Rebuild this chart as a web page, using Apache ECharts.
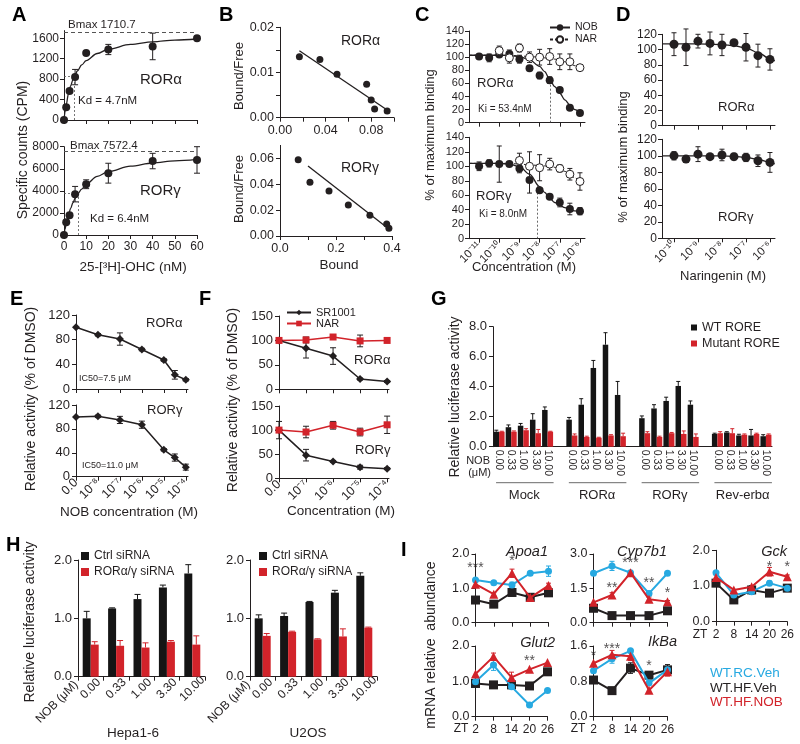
<!DOCTYPE html>
<html>
<head>
<meta charset="utf-8">
<script src="https://cdn.jsdelivr.net/npm/echarts@6/dist/echarts.min.js"></script>
<style>
html,body{margin:0;padding:0;background:#fff;}
#chart{width:800px;height:744px;}
</style>
</head>
<body>
<div id="chart"></div>
<script>
// ================= DATA =================
// A: saturation binding (25-[3H]-OHC, nM)
const aConc = [0, 1, 2.5, 5, 10, 20, 40, 60];
const aAlpha = [0, 250, 570, 840, 1310, 1380, 1440, 1600];
const aAlphaErr = [0, 0, 0, 150, 0, 100, 260, 0];
const aGamma = [0, 1150, 1800, 3700, 4600, 5600, 6700, 6800];
const aGammaErr = [0, 0, 0, 700, 400, 900, 700, 1200];
const aFitConc = [0, 0.5, 1, 2, 3, 4, 5, 6, 8, 10, 15, 20, 30, 40, 50, 60];
const aAlphaFit = [0, 164, 300, 511, 667, 787, 882, 959, 1078, 1164, 1302, 1385, 1479, 1531, 1564, 1586];
const aGammaFit = [0, 549, 1023, 1803, 2417, 2912, 3321, 3664, 4162, 4617, 5308, 5736, 6241, 6522, 6712, 6843];
const aBmax = [1710.7, 7572.4];
const aKd = [4.7, 6.4];
const aYTicks1 = [0, 400, 800, 1200, 1600];

// B: Scatchard
const bAlphaBound = [0.017, 0.035, 0.050, 0.076, 0.080, 0.083, 0.094];
const bAlphaBF = [0.0135, 0.0129, 0.0096, 0.0074, 0.0039, 0.0019, 0.0015];
const bAlphaFitX = [0.017, 0.094];
const bAlphaFitY = [0.0148, 0.0017];
const bGammaBound = [0.065, 0.107, 0.175, 0.244, 0.321, 0.381, 0.389];
const bGammaBF = [0.059, 0.0415, 0.0347, 0.0239, 0.016, 0.0093, 0.0059];
const bGammaFitX = [0.10, 0.39];
const bGammaFitY = [0.054, 0.0052];

// C: competition binding (log10 M)
const cTickExp = [-11, -10, -9, -8, -7, -6];
const cLogConc = [-11, -10.5, -10, -9.5, -9, -8.5, -8, -7.5, -7, -6.5, -6];
const cNobA = [101, 99, 104, 105, 97, 83, 72, 65, 50, 23, 15];
const cNobAErr = [0, 6, 0, 6, 6, 0, 5, 5, 0, 0, 0];
const cNarLogA = [-10, -9.5, -9, -8.5, -8, -7.5, -7, -6.5, -6];
const cNarA = [110, 99, 114, 100, 100, 101, 93, 93, 84];
const cNarAErr = [7, 8, 6, 8, 12, 12, 12, 12, 0];
const cNobG = [100, 104, 103, 103, 97, 81, 67, 58, 50, 41, 38];
const cNobGErr = [6, 5, 25, 0, 6, 18, 0, 0, 6, 8, 5];
const cNarLogG = [-9, -8.5, -8, -7.5, -7, -6.5, -6];
const cNarG = [108, 100, 98, 103, 97, 89, 79];
const cNarGErr = [10, 20, 18, 8, 5, 8, 12];
const cFitLog = [-11.5, -11, -10.5, -10, -9.5, -9, -8.5, -8, -7.75, -7.5, -7.25, -7, -6.75, -6.5, -6.25, -6];
const cNobAFit = [103, 103, 103, 103, 102.5, 101, 96, 86, 78, 66, 55, 45, 35, 27, 20, 15];
const cNobGFit = [104, 104, 104, 104, 103, 99.5, 89, 72, 64, 56, 50, 46, 43, 40, 38.5, 37];
const cNarAFit = [103, 103, 103, 103, 103, 102, 101, 100, 99, 98, 97, 95, 93, 90, 87, 84];
const cNarGFit = [104, 104, 104, 104, 104, 103, 102, 101, 100.5, 100, 98.5, 96, 93, 89, 84, 79];
const cKiLog = [-7.45, -8.1];
const cKiY = [63, 74];

// D: naringenin binding
const dTickExp = [-10, -9, -8, -7, -6];
const dLogConc = [-10, -9.5, -9, -8.5, -8, -7.5, -7, -6.5, -6];
const dAlpha = [107, 103, 111, 108, 106, 109, 103, 92, 87];
const dAlphaErr = [15, 24, 9, 15, 14, 0, 18, 15, 14];
const dGamma = [100, 96, 102, 99, 101, 99, 98, 94, 92];
const dGammaErr = [5, 4, 9, 0, 7, 4, 5, 7, 12];
const dFitLog = [-10.5, -9, -8, -7.5, -7, -6.5, -6, -5.8];
const dAlphaFit = [107.5, 107.5, 106.5, 105, 102, 96, 88, 85];
const dGammaFit = [100, 100, 99.8, 99.3, 98, 95.5, 92, 90];

// E: NOB dose response
const eTickLabels = ['0.0', '10⁻⁸', '10⁻⁷', '10⁻⁶', '10⁻⁵', '10⁻⁴'];
const eTickPos = [0, 1, 2, 3, 4, 5];
const ePos = [0, 1, 2, 3, 4, 4.5, 5];
const eAlpha = [100, 88, 81, 64, 47, 23, 15];
const eAlphaErr = [0, 2, 10, 2, 2, 7, 2];
const eGamma = [100, 101, 95, 87, 45, 32, 16];
const eGammaErr = [0, 2, 6, 6, 2, 6, 5];

// F: SR1001 / NAR
const fTickLabels = ['0.0', '10⁻⁷', '10⁻⁶', '10⁻⁵', '10⁻⁴'];
const fPos = [0, 1, 2, 3, 4];
const fSrA = [100, 84, 68, 21, 16];
const fSrAErr = [0, 20, 17, 2, 2];
const fNarA = [100, 101, 107, 99, 100];
const fNarAErr = [0, 6, 4, 12, 0];
const fSrG = [100, 48, 35, 23, 20];
const fSrGErr = [18, 12, 2, 4, 2];
const fNarG = [100, 96, 110, 96, 111];
const fNarGErr = [0, 12, 8, 8, 18];

// G: luciferase
const gGroups = ['Mock', 'RORα', 'RORγ', 'Rev-erbα'];
const gDoses = ['0.00', '0.33', '1.00', '3.30', '10.00'];
const gWT = [[1.0, 1.3, 1.4, 1.8, 2.45], [1.8, 2.8, 5.25, 6.8, 3.45], [1.9, 2.55, 3.05, 4.05, 2.8], [0.85, 0.95, 0.75, 0.75, 0.7]];
const gWTErr = [[0.1, 0.15, 0.15, 0.4, 0.2], [0.15, 0.4, 0.5, 0.8, 0.9], [0.15, 0.25, 0.25, 0.3, 0.25], [0.05, 0.05, 0.08, 0.4, 0.1]];
const gMut = [[1.0, 1.0, 1.1, 0.9, 1.0], [0.75, 0.65, 0.6, 0.75, 0.7], [0.9, 0.65, 0.9, 0.85, 0.65], [0.9, 0.9, 0.8, 0.85, 0.8]];
const gMutErr = [[0.03, 0.05, 0.1, 0.25, 0.03], [0.1, 0.05, 0.03, 0.05, 0.2], [0.1, 0.05, 0.05, 0.2, 0.2], [0.1, 0.3, 0.05, 0.05, 0.05]];

// H: siRNA
const hDoses = ['0.00', '0.33', '1.00', '3.30', '10.00'];
const hHepaCtrl = [1.0, 1.17, 1.33, 1.53, 1.77];
const hHepaCtrlErr = [0.12, 0.01, 0.08, 0.04, 0.15];
const hHepaSi = [0.55, 0.53, 0.5, 0.6, 0.55];
const hHepaSiErr = [0.05, 0.09, 0.08, 0.02, 0.15];
const hU2Ctrl = [1.0, 1.04, 1.28, 1.44, 1.73];
const hU2CtrlErr = [0.06, 0.05, 0.01, 0.04, 0.05];
const hU2Si = [0.7, 0.77, 0.64, 0.69, 0.84];
const hU2SiErr = [0.04, 0.01, 0.01, 0.13, 0.01];

// I: mRNA
const iZT = ['2', '8', '14', '20', '26'];
const iApoa1Blue = [1.24, 1.16, 1.10, 1.44, 1.50], iApoa1BlueErr = [0, 0.05, 0.08, 0.05, 0.15];
const iApoa1Black = [0.66, 0.54, 0.88, 0.74, 0.87], iApoa1BlackErr = [0, 0, 0.1, 0, 0];
const iApoa1Red = [1.12, 0.83, 1.44, 0.73, 1.08], iApoa1RedErr = [0, 0.04, 0.12, 0, 0.07];
const iApoa1Stars = [[0, 1.68, '***'], [2, 1.87, '*']];
const iCypBlue = [2.16, 2.48, 2.18, 1.28, 2.16], iCypBlueErr = [0, 0.2, 0, 0.1, 0];
const iCypBlack = [0.63, 0.31, 0.31, 0.31, 0.52], iCypBlackErr = [0, 0, 0, 0, 0];
const iCypRed = [0.89, 1.21, 2.18, 1.02, 0.92], iCypRedErr = [0, 0.1, 0.1, 0.1, 0.05];
const iCypStars = [[1, 1.65, '**'], [2, 2.74, '***'], [3, 1.86, '**'], [4, 1.43, '*']];
const iGckBlue = [1.37, 0.75, 0.84, 1.08, 0.94], iGckBlueErr = [0, 0, 0, 0.06, 0];
const iGckBlack = [1.08, 0.61, 0.89, 0.80, 0.94], iGckBlackErr = [0, 0, 0.12, 0, 0];
const iGckRed = [1.24, 0.89, 0.98, 1.40, 1.26], iGckRedErr = [0, 0, 0, 0.12, 0.05];
const iGckStars = [[3, 1.62, '*'], [4, 1.62, '*']];
const iGlutBlue = [0.99, 1.46, 0.85, 0.33, 0.74], iGlutBlueErr = [0, 0.15, 0, 0, 0];
const iGlutBlack = [0.94, 0.90, 0.90, 0.87, 1.27], iGlutBlackErr = [0, 0, 0.1, 0, 0];
const iGlutRed = [1.21, 1.70, 1.11, 1.34, 1.53], iGlutRedErr = [0, 0.1, 0.15, 0, 0];
const iGlutStars = [[1, 2.08, '**'], [3, 1.66, '**']];
const iIkbBlue = [1.04, 1.31, 1.49, 0.76, 1.06], iIkbBlueErr = [0, 0.1, 0, 0, 0];
const iIkbBlack = [0.83, 0.59, 1.10, 0.94, 1.06], iIkbBlackErr = [0, 0, 0.12, 0, 0.12];
const iIkbRed = [1.21, 1.40, 1.37, 0.60, 1.02], iIkbRedErr = [0, 0.1, 0.1, 0, 0.1];
const iIkbStars = [[0, 1.44, '*'], [1, 1.6, '***'], [3, 1.22, '*']];

// ================= HELPERS =================
const FONT = '"Liberation Sans", Arial, Helvetica, sans-serif';
const INK = '#231f20', RED = '#d2232a', BLUE = '#27a9e1', BARK = '#151515';
const grids = [], xAxes = [], yAxes = [], series = [], graphic = [];
function merge(a, b) {
  const o = Object.assign({}, a);
  for (const k in b) {
    const v = b[k];
    if (v && typeof v === 'object' && !Array.isArray(v) && o[k] && typeof o[k] === 'object' && !Array.isArray(o[k])) o[k] = merge(o[k], v);
    else o[k] = v;
  }
  return o;
}
const AX = {
  axisLine: {show: true, onZero: false, lineStyle: {color: INK, width: 1}},
  axisTick: {show: true, inside: false, length: 4, lineStyle: {color: INK, width: 1}},
  axisLabel: {color: INK, fontSize: 12, fontFamily: FONT, margin: 6},
  splitLine: {show: false}, splitArea: {show: false}
};
function panel(box, xo, yo) {
  const gi = grids.length;
  grids.push({left: box[0], top: box[1], width: box[2], height: box[3]});
  xAxes.push(merge(merge(AX, {gridIndex: gi, type: 'value'}), xo));
  yAxes.push(merge(merge(AX, {gridIndex: gi, type: 'value'}), yo));
  return gi;
}
const pts = (xs, ys) => xs.map((x, i) => [x, ys[i]]);
function dots(gi, xs, ys, o) {
  series.push(merge({type: 'scatter', xAxisIndex: gi, yAxisIndex: gi, symbol: 'circle', symbolSize: 8,
    itemStyle: {color: INK, opacity: 1}, z: 6, silent: true, data: pts(xs, ys)}, o || {}));
}
function curve(gi, xs, ys, o) {
  series.push(merge({type: 'line', xAxisIndex: gi, yAxisIndex: gi, symbol: 'none', showSymbol: false,
    smooth: 0.35, smoothMonotone: 'x', lineStyle: {color: INK, width: 1.3}, itemStyle: {color: INK},
    z: 3, silent: true, data: pts(xs, ys)}, o || {}));
}
function errs(gi, xs, ys, es, color, o) {
  o = o || {};
  const cap = o.cap || 5, dx = o.dx || 0, up = !!o.up;
  const data = [];
  xs.forEach((x, i) => { if (es[i] > 0) data.push([x, ys[i], es[i]]); });
  series.push({type: 'custom', xAxisIndex: gi, yAxisIndex: gi, silent: true, z: o.z || 4, clip: false, data,
    renderItem: (p, api) => {
      const x = api.value(0), y = api.value(1), e = api.value(2);
      const t = api.coord([x, y + e]);
      const b = api.coord([x, up ? y : y - e]);
      const cx = t[0] + dx, h = cap / 2;
      const st = {stroke: color, lineWidth: 1};
      const ch = [
        {type: 'line', shape: {x1: cx, y1: t[1], x2: cx, y2: b[1]}, style: st},
        {type: 'line', shape: {x1: cx - h, y1: t[1], x2: cx + h, y2: t[1]}, style: st}];
      if (!up) ch.push({type: 'line', shape: {x1: cx - h, y1: b[1], x2: cx + h, y2: b[1]}, style: st});
      return {type: 'group', children: ch};
    }});
}
function T(x, y, text, o) {
  o = o || {};
  graphic.push({type: 'text', x, y, rotation: o.rot || 0, silent: true, z: 100,
    style: {text, fill: o.color || INK,
      font: (o.italic ? 'italic ' : '') + (o.bold ? 'bold ' : '') + (o.size || 13) + 'px ' + FONT,
      textAlign: o.align || 'left', align: o.align || 'left', textVerticalAlign: 'middle', verticalAlign: 'middle'}});
}
const SUP = {'-': '⁻', '0': '⁰', '1': '¹', '2': '²', '3': '³', '4': '⁴', '5': '⁵', '6': '⁶', '7': '⁷', '8': '⁸', '9': '⁹'};
const pow10 = v => '10' + String(Math.round(v)).split('').map(c => SUP[c]).join('');
const plain = v => String(v);
const kiLine = (x, y) => ({silent: true, symbol: 'none', label: {show: false}, animation: false,
  lineStyle: {color: '#444', type: [2, 2], width: 0.8}, data: [[{coord: [x, 0]}, {coord: [x, y]}]]});

// ================= A =================
const gA1 = panel([64, 30.6, 133, 89.4], {min: 0, max: 60, interval: 10, axisLabel: {show: false}},
  {min: 0, max: 1750, interval: 400, axisTick: {customValues: aYTicks1},
    axisLabel: {customValues: aYTicks1, formatter: plain, fontSize: 12, margin: 5}});
curve(gA1, aFitConc, aAlphaFit, {markLine: {silent: true, symbol: 'none', label: {show: false}, animation: false,
  lineStyle: {color: '#555', type: [4, 3], width: 1},
  data: [{yAxis: aBmax[0]},
    [{coord: [0, aBmax[0] / 2], lineStyle: {type: [2, 2], width: 0.8}}, {coord: [aKd[0], aBmax[0] / 2]}],
    [{coord: [aKd[0], 0], lineStyle: {type: [2, 2], width: 0.8}}, {coord: [aKd[0], aBmax[0] / 2]}]]}});
errs(gA1, aConc, aAlpha, aAlphaErr, INK, {cap: 6});
dots(gA1, aConc, aAlpha);
const gA2 = panel([64, 146.7, 133, 88.3], {min: 0, max: 60, interval: 10},
  {min: 0, max: 8000, interval: 2000, axisLabel: {formatter: plain, fontSize: 12, margin: 5}});
curve(gA2, aFitConc, aGammaFit, {markLine: {silent: true, symbol: 'none', label: {show: false}, animation: false,
  lineStyle: {color: '#555', type: [4, 3], width: 1},
  data: [{yAxis: aBmax[1]},
    [{coord: [0, aBmax[1] / 2], lineStyle: {type: [2, 2], width: 0.8}}, {coord: [aKd[1], aBmax[1] / 2]}],
    [{coord: [aKd[1], 0], lineStyle: {type: [2, 2], width: 0.8}}, {coord: [aKd[1], aBmax[1] / 2]}]]}});
errs(gA2, aConc, aGamma, aGammaErr, INK, {cap: 6});
dots(gA2, aConc, aGamma);

// ================= B =================
const gB1 = panel([280, 27.3, 114, 90.4],
  {min: 0, max: 0.1, interval: 0.02, axisTick: {customValues: [0, 0.02, 0.04, 0.06, 0.08, 0.1]},
    axisLabel: {customValues: [0, 0.04, 0.08], formatter: v => v.toFixed(2), fontSize: 12.5}},
  {min: 0, max: 0.02, interval: 0.005, axisTick: {customValues: [0, 0.005, 0.01, 0.015, 0.02]},
    axisLabel: {customValues: [0, 0.01, 0.02], formatter: v => v.toFixed(2), fontSize: 12.5}});
curve(gB1, bAlphaFitX, bAlphaFitY, {smooth: false});
dots(gB1, bAlphaBound, bAlphaBF, {symbolSize: 7});
const gB2 = panel([280, 145.4, 112, 90.6],
  {min: 0, max: 0.4, interval: 0.1, axisTick: {customValues: [0, 0.1, 0.2, 0.3, 0.4]},
    axisLabel: {customValues: [0, 0.2, 0.4], formatter: v => v.toFixed(1), fontSize: 12.5}},
  {min: 0, max: 0.07, interval: 0.02, axisTick: {customValues: [0, 0.02, 0.04, 0.06]},
    axisLabel: {customValues: [0, 0.02, 0.04, 0.06], formatter: v => v.toFixed(2), fontSize: 12.5}});
curve(gB2, bGammaFitX, bGammaFitY, {smooth: false});
dots(gB2, bGammaBound, bGammaBF, {symbolSize: 7});

// ================= C =================
const openC = {color: '#fff', borderColor: INK, borderWidth: 1};
const gC1 = panel([469, 31, 116, 91.7], {min: -11.5, max: -5.75, axisTick: {customValues: cTickExp}, axisLabel: {show: false}},
  {min: 0, max: 140, interval: 20, axisLabel: {fontSize: 11, margin: 5}});
curve(gC1, cFitLog, cNarAFit, {name: 'NAR', symbol: 'circle', symbolSize: 8, lineStyle: {type: [3, 2], width: 1}, itemStyle: openC});
curve(gC1, cFitLog, cNobAFit, {name: 'NOB', symbol: 'circle', symbolSize: 8, markLine: kiLine(cKiLog[0], cKiY[0])});
errs(gC1, cLogConc, cNobA, cNobAErr, INK, {cap: 5});
errs(gC1, cNarLogA, cNarA, cNarAErr, INK, {cap: 5});
dots(gC1, cLogConc, cNobA, {symbolSize: 8});
dots(gC1, cNarLogA, cNarA, {symbolSize: 8, itemStyle: openC});
const gC2 = panel([469, 137.3, 116, 101.4],
  {min: -11.5, max: -5.75, axisTick: {customValues: cTickExp},
    axisLabel: {customValues: cTickExp, rotate: 45, formatter: pow10, fontSize: 11.5, margin: 5}},
  {min: 0, max: 140, interval: 20, axisLabel: {fontSize: 11, margin: 5}});
curve(gC2, cFitLog, cNarGFit, {name: 'NAR', symbol: 'circle', symbolSize: 8, lineStyle: {type: [3, 2], width: 1}, itemStyle: openC});
curve(gC2, cFitLog, cNobGFit, {name: 'NOB', symbol: 'circle', symbolSize: 8, markLine: kiLine(cKiLog[1], cKiY[1])});
errs(gC2, cLogConc, cNobG, cNobGErr, INK, {cap: 5});
errs(gC2, cNarLogG, cNarG, cNarGErr, INK, {cap: 5});
dots(gC2, cLogConc, cNobG, {symbolSize: 8});
dots(gC2, cNarLogG, cNarG, {symbolSize: 8, itemStyle: openC});

// ================= D =================
const gD1 = panel([662, 34.3, 113, 91.4], {min: -10.5, max: -5.79, axisTick: {customValues: dTickExp}, axisLabel: {show: false}},
  {min: 0, max: 120, interval: 20, axisLabel: {fontSize: 12, margin: 5}});
curve(gD1, dFitLog, dAlphaFit);
errs(gD1, dLogConc, dAlpha, dAlphaErr, INK, {cap: 5});
dots(gD1, dLogConc, dAlpha, {symbolSize: 9});
const gD2 = panel([662, 139.3, 113, 99],
  {min: -10.5, max: -5.79, axisTick: {customValues: dTickExp},
    axisLabel: {customValues: dTickExp, rotate: 45, formatter: pow10, fontSize: 11.5, margin: 5}},
  {min: 0, max: 120, interval: 20, axisLabel: {fontSize: 12, margin: 5}});
curve(gD2, dFitLog, dGammaFit);
errs(gD2, dLogConc, dGamma, dGammaErr, INK, {cap: 5});
dots(gD2, dLogConc, dGamma, {symbolSize: 9});

// ================= E =================
const gE1 = panel([76, 315, 112, 74], {min: 0, max: 5.1, interval: 1, axisTick: {customValues: eTickPos}, axisLabel: {show: false}},
  {min: 0, max: 120, interval: 40, axisLabel: {fontSize: 13}});
errs(gE1, ePos, eAlpha, eAlphaErr, INK, {cap: 6});
curve(gE1, ePos, eAlpha, {smooth: false, symbol: 'diamond', showSymbol: true, symbolSize: 8, lineStyle: {width: 1.5}, z: 5});
const gE2 = panel([76, 405, 112, 71.7],
  {min: 0, max: 5.1, interval: 1, axisTick: {customValues: eTickPos},
    axisLabel: {customValues: eTickPos, rotate: 45, formatter: v => eTickLabels[Math.round(v)], fontSize: 12.5, margin: 4}},
  {min: 0, max: 120, interval: 40, axisLabel: {fontSize: 13}});
errs(gE2, ePos, eGamma, eGammaErr, INK, {cap: 6});
curve(gE2, ePos, eGamma, {smooth: false, symbol: 'diamond', showSymbol: true, symbolSize: 8, lineStyle: {width: 1.5}, z: 5});

// ================= F =================
const gF1 = panel([279, 316, 110, 73.3], {min: 0, max: 4.07, interval: 1, axisTick: {customValues: fPos}, axisLabel: {show: false}},
  {min: 0, max: 150, interval: 50, axisLabel: {fontSize: 13}});
errs(gF1, fPos, fSrA, fSrAErr, INK, {cap: 6});
errs(gF1, fPos, fNarA, fNarAErr, INK, {cap: 6});
curve(gF1, fPos, fSrA, {name: 'SR1001', smooth: false, symbol: 'diamond', showSymbol: true, symbolSize: 8, lineStyle: {width: 1.5}, z: 5});
curve(gF1, fPos, fNarA, {name: 'F_NAR', smooth: false, symbol: 'rect', showSymbol: true, symbolSize: 7, lineStyle: {width: 1.5, color: RED}, itemStyle: {color: RED}, z: 5});
const gF2 = panel([279, 406, 110, 72.3],
  {min: 0, max: 4.07, interval: 1, axisTick: {customValues: fPos},
    axisLabel: {customValues: fPos, rotate: 45, formatter: v => fTickLabels[Math.round(v)], fontSize: 12.5, margin: 4}},
  {min: 0, max: 150, interval: 50, axisLabel: {fontSize: 13}});
errs(gF2, fPos, fSrG, fSrGErr, INK, {cap: 6});
errs(gF2, fPos, fNarG, fNarGErr, INK, {cap: 6});
curve(gF2, fPos, fSrG, {name: 'SR1001', smooth: false, symbol: 'diamond', showSymbol: true, symbolSize: 8, lineStyle: {width: 1.5}, z: 5});
curve(gF2, fPos, fNarG, {name: 'F_NAR', smooth: false, symbol: 'rect', showSymbol: true, symbolSize: 7, lineStyle: {width: 1.5, color: RED}, itemStyle: {color: RED}, z: 5});

// ================= G =================
const gCats = [], gWTFlat = [], gMutFlat = [], gIdx = [], gWTE = [], gMutE = [], gWTV = [], gMutV = [];
gGroups.forEach((g, k) => {
  gDoses.forEach((d, j) => {
    gIdx.push(gCats.length);
    gCats.push(d);
    gWTFlat.push(gWT[k][j]); gMutFlat.push(gMut[k][j]);
    gWTV.push(gWT[k][j]); gMutV.push(gMut[k][j]);
    gWTE.push(gWTErr[k][j]); gMutE.push(gMutErr[k][j]);
  });
  if (k < gGroups.length - 1) { gCats.push(''); gWTFlat.push('-'); gMutFlat.push('-'); }
});
const gG = grids.length;
grids.push({left: 493, top: 326.7, width: 279, height: 120});
xAxes.push(merge(AX, {gridIndex: gG, type: 'category', data: gCats, axisTick: {show: false},
  axisLabel: {interval: 0, rotate: -90, fontSize: 10.5, margin: 3}}));
yAxes.push(merge(AX, {gridIndex: gG, type: 'value', min: 0, max: 8, interval: 2, axisLabel: {formatter: v => v.toFixed(1), fontSize: 13}}));
series.push({type: 'bar', name: 'WT RORE', xAxisIndex: gG, yAxisIndex: gG, data: gWTFlat, barWidth: 5.5, barGap: '0%', itemStyle: {color: BARK}, silent: true});
series.push({type: 'bar', name: 'Mutant RORE', xAxisIndex: gG, yAxisIndex: gG, data: gMutFlat, barWidth: 5.5, barGap: '0%', itemStyle: {color: RED}, silent: true});
errs(gG, gIdx, gWTV, gWTE, BARK, {up: true, dx: -2.75, cap: 4, z: 5});
errs(gG, gIdx, gMutV, gMutE, RED, {up: true, dx: 2.75, cap: 4, z: 5});
series.push({type: 'custom', xAxisIndex: gG, yAxisIndex: gG, silent: true, clip: false, z: 5,
  data: gGroups.map((g, i) => [i * 6 + 2, 0]),
  renderItem: (p, api) => {
    const i = p.dataIndex;
    const a = api.coord([i * 6, 0]), b = api.coord([i * 6 + 4, 0]);
    const y0 = a[1];
    return {type: 'group', children: [
      {type: 'line', shape: {x1: a[0] - 3, y1: y0 + 36, x2: b[0] + 6, y2: y0 + 36}, style: {stroke: '#444', lineWidth: 0.8}},
      {type: 'text', x: (a[0] + b[0]) / 2 + 1, y: y0 + 49,
        style: {text: gGroups[i], textAlign: 'center', align: 'center', textVerticalAlign: 'middle', verticalAlign: 'middle',
          fill: INK, font: '13px ' + FONT}}]};
  }});

// ================= H =================
function hPanel(left, ctrl, ctrlE, si, siE) {
  const gi = grids.length;
  grids.push({left, top: 560, width: 127, height: 116.7});
  xAxes.push(merge(AX, {gridIndex: gi, type: 'category', data: hDoses, axisTick: {show: true, length: 4},
    axisLabel: {interval: 0, rotate: 45, fontSize: 12, margin: 12, align: 'center', verticalAlign: 'middle'}}));
  yAxes.push(merge(AX, {gridIndex: gi, type: 'value', min: 0, max: 2, interval: 1, axisLabel: {formatter: v => v.toFixed(1), fontSize: 13}}));
  series.push({type: 'bar', name: 'Ctrl siRNA', xAxisIndex: gi, yAxisIndex: gi, data: ctrl, barWidth: 8, barGap: '0%', itemStyle: {color: BARK}, silent: true});
  series.push({type: 'bar', name: 'RORα/γ siRNA', xAxisIndex: gi, yAxisIndex: gi, data: si, barWidth: 8, barGap: '0%', itemStyle: {color: RED}, silent: true});
  const idx = [0, 1, 2, 3, 4];
  errs(gi, idx, ctrl, ctrlE, BARK, {up: true, dx: -4, cap: 6, z: 5});
  errs(gi, idx, si, siE, RED, {up: true, dx: 4, cap: 6, z: 5});
}
hPanel(78, hHepaCtrl, hHepaCtrlErr, hHepaSi, hHepaSiErr);
hPanel(250, hU2Ctrl, hU2CtrlErr, hU2Si, hU2SiErr);

// ================= I =================
function iPanel(box, ymax, yint, showX, blue, blueE, black, blackE, red, redE, stars) {
  const gi = grids.length;
  grids.push({left: box[0], top: box[1], width: box[2], height: box[3]});
  xAxes.push(merge(AX, {gridIndex: gi, type: 'category', data: iZT, boundaryGap: false,
    axisTick: {alignWithLabel: true}, axisLabel: {show: showX, interval: 0, fontSize: 12, margin: 7}}));
  yAxes.push(merge(AX, {gridIndex: gi, type: 'value', min: 0, max: ymax, interval: yint,
    axisLabel: {formatter: v => v.toFixed(1), fontSize: 12.5}}));
  const idx = [0, 1, 2, 3, 4];
  const ln = (ys, color, sym, size, z) => series.push({type: 'line', xAxisIndex: gi, yAxisIndex: gi, data: ys, symbol: sym,
    symbolSize: size, showSymbol: true, lineStyle: {color, width: 2}, itemStyle: {color}, z, silent: true});
  errs(gi, idx, black, blackE, INK, {cap: 5, z: 4}); ln(black, INK, 'rect', 9, 5);
  errs(gi, idx, blue, blueE, BLUE, {cap: 5, z: 4}); ln(blue, BLUE, 'circle', 7, 6);
  errs(gi, idx, red, redE, RED, {cap: 5, z: 4}); ln(red, RED, 'triangle', 9, 7);
  series.push({type: 'scatter', xAxisIndex: gi, yAxisIndex: gi, data: stars, symbolSize: 1,
    itemStyle: {color: 'rgba(0,0,0,0)'}, silent: true, z: 8,
    label: {show: true, position: 'inside', formatter: p => p.data[2], color: INK, fontSize: 14, fontFamily: FONT, offset: [0, 3]}});
}
iPanel([475.5, 554, 73, 68.7], 2, 1, false, iApoa1Blue, iApoa1BlueErr, iApoa1Black, iApoa1BlackErr, iApoa1Red, iApoa1RedErr, iApoa1Stars);
iPanel([593.5, 554, 74, 68.7], 3, 1.5, false, iCypBlue, iCypBlueErr, iCypBlack, iCypBlackErr, iCypRed, iCypRedErr, iCypStars);
iPanel([716, 550.3, 71.3, 71.4], 2, 1, true, iGckBlue, iGckBlueErr, iGckBlack, iGckBlackErr, iGckRed, iGckRedErr, iGckStars);
iPanel([475.5, 646, 72, 70.7], 2, 1, true, iGlutBlue, iGlutBlueErr, iGlutBlack, iGlutBlackErr, iGlutRed, iGlutRedErr, iGlutStars);
iPanel([593.5, 646, 74, 70.7], 1.6, 0.8, true, iIkbBlue, iIkbBlueErr, iIkbBlack, iIkbBlackErr, iIkbRed, iIkbRedErr, iIkbStars);

// ================= TEXT =================
const L = {bold: true, size: 20, color: '#000'};
T(12, 15, 'A', L); T(219, 15, 'B', L); T(415, 15, 'C', L); T(616, 15, 'D', L);
T(10, 299, 'E', L); T(199, 299, 'F', L); T(431, 299, 'G', L);
T(6, 545, 'H', L); T(401, 550, 'I', L);
// A
T(68, 25, 'Bmax 1710.7', {size: 11.5});
T(140, 80, 'RORα', {size: 15});
T(78, 101, 'Kd = 4.7nM', {size: 11.5});
T(70, 146, 'Bmax 7572.4', {size: 11.5});
T(140, 191, 'RORγ', {size: 15});
T(90, 219, 'Kd = 6.4nM', {size: 11.5});
T(133, 267, '25-[³H]-OHC (nM)', {size: 13.5, align: 'center'});
T(23, 150, 'Specific counts (CPM)', {size: 14, align: 'center', rot: Math.PI / 2});
// B
T(341, 41, 'RORα', {size: 14});
T(341, 168, 'RORγ', {size: 14});
T(239, 76, 'Bound/Free', {size: 13, align: 'center', rot: Math.PI / 2});
T(239, 189, 'Bound/Free', {size: 13, align: 'center', rot: Math.PI / 2});
T(339, 265, 'Bound', {size: 13.5, align: 'center'});
// C
T(477, 83, 'RORα', {size: 13});
T(478, 109, 'Ki = 53.4nM', {size: 10});
T(476, 196, 'RORγ', {size: 13});
T(479, 214, 'Ki = 8.0nM', {size: 10});
T(430, 135, '% of maximum binding', {size: 13, align: 'center', rot: Math.PI / 2});
T(524, 267, 'Concentration (M)', {size: 13, align: 'center'});
// D
T(718, 107, 'RORα', {size: 13});
T(718, 217, 'RORγ', {size: 13});
T(623, 157, '% of maximum binding', {size: 13, align: 'center', rot: Math.PI / 2});
T(723, 276, 'Naringenin (M)', {size: 13, align: 'center'});
// E
T(146, 323, 'RORα', {size: 13});
T(147, 410, 'RORγ', {size: 13});
T(79, 379, 'IC50=7.5 μM', {size: 9});
T(82, 466, 'IC50=11.0 μM', {size: 9});
T(31, 399, 'Relative activity (% of DMSO)', {size: 14, align: 'center', rot: Math.PI / 2});
T(129, 512, 'NOB concentration (M)', {size: 13.5, align: 'center'});
// F
T(354, 360, 'RORα', {size: 13});
T(355, 450, 'RORγ', {size: 13});
T(233, 400, 'Relative activity (% of DMSO)', {size: 14, align: 'center', rot: Math.PI / 2});
T(341, 511, 'Concentration (M)', {size: 13.5, align: 'center'});
// G
T(490, 461, 'NOB', {size: 11, align: 'right'});
T(491, 473, '(μM)', {size: 11, align: 'right'});
T(455, 397, 'Relative luciferase activity', {size: 14, align: 'center', rot: Math.PI / 2});
// H
T(30, 622, 'Relative luciferase activity', {size: 14, align: 'center', rot: Math.PI / 2});
T(57, 702, 'NOB (μM)', {size: 12, align: 'center', rot: Math.PI / 4});
T(229, 702, 'NOB (μM)', {size: 12, align: 'center', rot: Math.PI / 4});
T(133, 733, 'Hepa1-6', {size: 13.5, align: 'center'});
T(308, 733, 'U2OS', {size: 13.5, align: 'center'});
// I
T(548, 552, 'Apoa1', {size: 14.5, italic: true, align: 'right'});
T(667, 552, 'Cyp7b1', {size: 14.5, italic: true, align: 'right'});
T(787, 552, 'Gck', {size: 14.5, italic: true, align: 'right'});
T(555, 643, 'Glut2', {size: 14.5, italic: true, align: 'right'});
T(677, 642, 'IkBa', {size: 14.5, italic: true, align: 'right'});
T(431, 645, 'mRNA relative  abundance', {size: 14, align: 'center', rot: Math.PI / 2});
T(700, 635, 'ZT', {size: 12, align: 'center'});
T(461, 729, 'ZT', {size: 12, align: 'center'});
T(578, 729, 'ZT', {size: 12, align: 'center'});
T(710, 673, 'WT.RC.Veh', {size: 13.5, color: BLUE});
T(710, 688, 'WT.HF.Veh', {size: 13.5, color: INK});
T(710, 702, 'WT.HF.NOB', {size: 13.5, color: RED});

// ================= LEGENDS =================
const LT = {fontFamily: FONT, color: INK};
const legends = [
  {data: ['NOB', 'NAR'], orient: 'vertical', left: 549, top: 22, itemWidth: 20, itemHeight: 8, itemGap: 1,
    textStyle: merge(LT, {fontSize: 10.5}), selectedMode: false, padding: 0},
  {data: ['SR1001', 'F_NAR'], formatter: n => n === 'F_NAR' ? 'NAR' : n, orient: 'vertical', left: 286, top: 307,
    itemWidth: 24, itemHeight: 7, itemGap: 0, textStyle: merge(LT, {fontSize: 11}), selectedMode: false, padding: 0},
  {data: ['WT RORE', 'Mutant RORE'], orient: 'vertical', left: 691, top: 321, icon: 'rect', itemWidth: 6, itemHeight: 6,
    itemGap: 3, textStyle: merge(LT, {fontSize: 12.5}), selectedMode: false, padding: 0},
  {data: ['Ctrl siRNA', 'RORα/γ siRNA'], orient: 'vertical', left: 81, top: 550, icon: 'rect', itemWidth: 8, itemHeight: 8,
    itemGap: 4, textStyle: merge(LT, {fontSize: 12}), selectedMode: false, padding: 0},
  {data: ['Ctrl siRNA', 'RORα/γ siRNA'], orient: 'vertical', left: 259, top: 550, icon: 'rect', itemWidth: 8, itemHeight: 8,
    itemGap: 4, textStyle: merge(LT, {fontSize: 12}), selectedMode: false, padding: 0}
];

const chart = echarts.init(document.getElementById('chart'), null, {renderer: 'canvas'});
chart.setOption({
  animation: false,
  backgroundColor: '#ffffff',
  textStyle: {fontFamily: FONT},
  grid: grids, xAxis: xAxes, yAxis: yAxes, series, legend: legends,
  graphic: {elements: graphic}
});
</script>
</body>
</html>
